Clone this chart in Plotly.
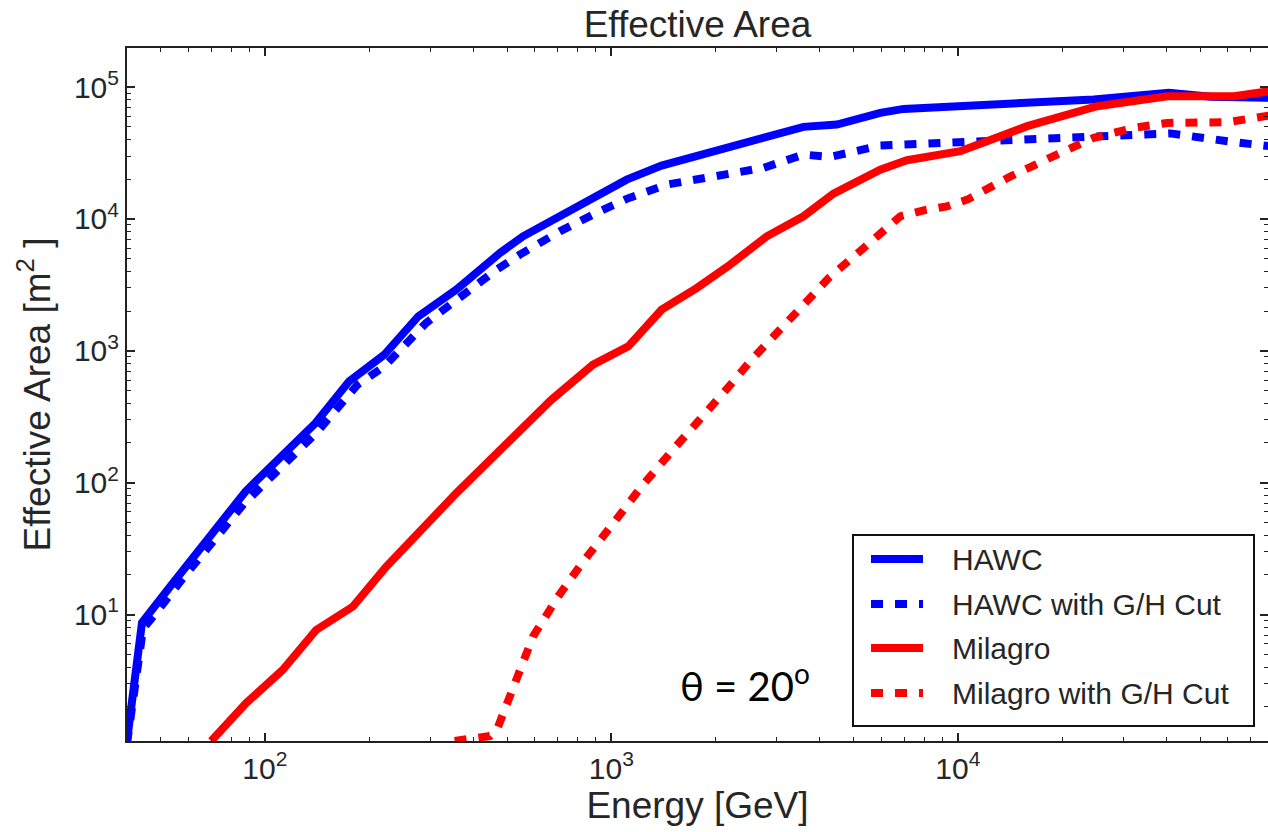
import plotly.graph_objects as go

# ---------------- data ----------------
hawc_E = [40, 44.2, 52.9, 88, 140, 175, 221, 277, 357, 477, 556, 1107, 1396, 2748,
          3585, 4475, 5970, 6970, 10160, 24660, 40600, 53700, 79000]
hawc_A = [1.1, 8.7, 15.9, 86, 283, 587, 933, 1824, 2911, 5520, 7380, 19860, 25350, 40450,
          49900, 52000, 63700, 68300, 72400, 80400, 90300, 84300, 82800]

hawc_cut_E = [40, 44.5, 48.5, 58.5, 87.3, 140, 185, 221, 292, 357, 417, 466, 544, 710, 926,
              1107, 1443, 1968, 2748, 3585, 4285, 5970, 8150, 12680, 24660, 36800, 41000,
              60000, 79000]
hawc_cut_A = [1.05, 7.8, 10.3, 19.4, 70, 235, 553, 760, 1626, 2400, 3365, 4120, 5360, 8050,
              11430, 14200, 18200, 20830, 24400, 30760, 29530, 35950, 37200, 39450, 41900,
              44950, 44500, 38800, 35600]

milagro_E = [70, 88.3, 112.5, 140.6, 179.5, 224, 357, 477, 671, 885, 1119, 1396, 1762, 2200,
             2810, 3585, 4375, 5970, 7130, 10160, 15850, 25230, 40230, 62700, 79000]
milagro_A = [1.1, 2.13, 3.8, 7.65, 11.5, 23.1, 83.4, 173, 425, 785, 1080, 2050, 2990, 4500,
             7380, 10470, 15560, 23660, 27850, 32600, 50500, 71500, 85100, 85100, 92900]

milagro_cut_E = [353, 446, 471, 526, 594, 702, 829, 1012, 1222, 1492, 1823, 2249, 2514, 2810,
                 3428, 4237, 5350, 5970, 6820, 7960, 9300, 10640, 14200, 19780, 24660, 32200,
                 40230, 60000, 79000]
milagro_cut_A = [1.1, 1.2, 1.41, 3.1, 6.8, 13.7, 25.2, 49, 93.6, 173, 309, 586, 832, 1146,
                 1990, 3560, 6025, 7840, 10470, 11620, 12460, 14000, 21040, 31700, 41200,
                 49000, 53450, 54100, 60800]

x_tick_vals = [100, 1000, 10000]
x_tick_text = ["10<sup>2</sup>", "10<sup>3</sup>", "10<sup>4</sup>"]
y_tick_vals = [10, 100, 1000, 10000, 100000]
y_tick_text = ["10<sup>1</sup>", "10<sup>2</sup>", "10<sup>3</sup>", "10<sup>4</sup>",
               "10<sup>5</sup>"]

series_names = ["HAWC", "HAWC with G/H Cut", "Milagro", "Milagro with G/H Cut"]
series_colors = ["#0000ff", "#0000ff", "#ff0000", "#ff0000"]
series_dash = ["solid", "12px,12px", "solid", "12px,12px"]

title_text = "Effective Area"
x_title = "Energy [GeV]"
y_title = "Effective Area [m<sup>2</sup> ]"
angle_text = "θ = 20<sup>o</sup>"

# ---------------- figure ----------------
W, H = 1268, 832
L, R, T, B = 127, 0, 48, 91
PW, PH = W - L - R, H - T - B


def px(xp):
    return (xp - L) / PW


def py(yp):
    return (H - B - yp) / PH


FONT = "Liberation Sans"
TXT = "#262626"

fig = go.Figure()
data = [(hawc_E, hawc_A), (hawc_cut_E, hawc_cut_A), (milagro_E, milagro_A),
        (milagro_cut_E, milagro_cut_A)]
for (xs, ys), name, col, dash in zip(data, series_names, series_colors, series_dash):
    fig.add_trace(go.Scatter(x=xs, y=ys, mode="lines", name=name, showlegend=False,
                             line=dict(color=col, width=8, dash=dash)))

axis_common = dict(
    type="log", showline=True, linecolor="#222", linewidth=2, mirror="allticks",
    ticks="inside", ticklen=8, tickwidth=1.5, tickcolor="#222",
    showgrid=False, zeroline=False, automargin=False, tickmode="array",
    tickfont=dict(family=FONT, size=30, color=TXT),
    minor=dict(ticks="inside", ticklen=4, tickwidth=1.2, tickcolor="#222",
               dtick="D1", showgrid=False),
)

fig.update_xaxes(**axis_common, range=[1.6021, 4.895],
                 tickvals=x_tick_vals, ticktext=x_tick_text,
                 title=dict(text=x_title, font=dict(family=FONT, size=37, color=TXT),
                            standoff=2))
fig.update_yaxes(**axis_common, range=[0.0414, 5.296],
                 tickvals=y_tick_vals, ticktext=y_tick_text,
                 title=dict(text=y_title, font=dict(family=FONT, size=37, color=TXT),
                            standoff=12))

# manual legend
box = dict(x0=px(853), x1=px(1254), y0=py(726), y1=py(535))
shapes = [dict(type="rect", xref="paper", yref="paper", **box,
               line=dict(color="#111", width=2), fillcolor="white", layer="above")]
annotations = []
rows_y = [559, 604, 648, 693]
for name, col, dash, ry in zip(series_names, series_colors, series_dash, rows_y):
    shapes.append(dict(type="line", xref="paper", yref="paper",
                       x0=px(871), x1=px(923), y0=py(ry), y1=py(ry), layer="above",
                       line=dict(color=col, width=8, dash=dash)))
    annotations.append(dict(text=name, xref="paper", yref="paper", x=px(950), y=py(ry),
                            xanchor="left", yanchor="middle", showarrow=False,
                            font=dict(family=FONT, size=30, color=TXT)))

annotations.append(dict(text=angle_text, xref="paper", yref="paper", x=px(678), y=py(683),
                        xanchor="left", yanchor="middle", showarrow=False,
                        font=dict(family="Lato", size=40, color="black")))

fig.update_layout(
    width=W, height=H, autosize=False,
    margin=dict(l=L, r=R, t=T, b=B, autoexpand=False),
    paper_bgcolor="white", plot_bgcolor="white",
    title=dict(text=title_text, x=0.5, xref="paper", xanchor="center",
               y=1 - 24 / H, yref="container", yanchor="middle",
               font=dict(family=FONT, size=37, color=TXT)),
    shapes=shapes, annotations=annotations, showlegend=False,
)

fig.write_html("out.html",
               config={"displayModeBar": False},
               post_script="document.body.style.margin='0px';"
                           "document.body.style.padding='0px';"
                           "document.body.style.overflow='hidden';")
